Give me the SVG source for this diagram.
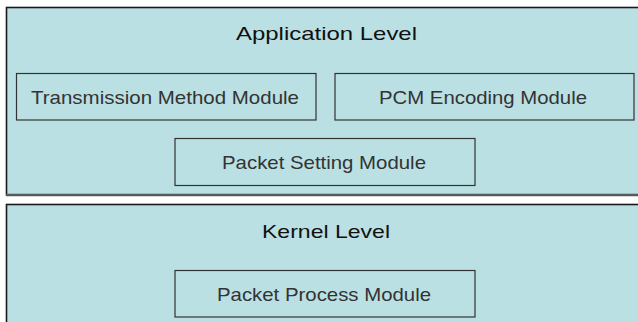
<svg xmlns="http://www.w3.org/2000/svg" width="638" height="322" viewBox="0 0 638 322">
<style>
.level{fill:#bae0e3;stroke:#1a1a1a;stroke-width:1.6}
.shade{stroke:#555a5a;stroke-width:2.4}
.mod{fill:#bae0e3;stroke:#333;stroke-width:1.2}
.title{font-family:"Liberation Sans",Arial,sans-serif;font-size:19px;fill:#111;text-anchor:start}
.label{font-family:"Liberation Sans",Arial,sans-serif;font-size:19px;fill:#333;text-anchor:start}
</style>
<rect width="638" height="322" fill="#ffffff"/>
<g id="application-level">
<rect class="level" x="6.5" y="7.5" width="640" height="187.5"/>
<line class="shade" x1="6" y1="195" x2="638" y2="195"/>
<text class="title" x="236" y="40" textLength="181" lengthAdjust="spacingAndGlyphs">Application Level</text>
</g>
<g id="transmission-method-module">
<rect class="mod" x="16.5" y="73.5" width="299.5" height="46.5"/>
<text class="label" x="31" y="104" textLength="268" lengthAdjust="spacingAndGlyphs">Transmission Method Module</text>
</g>
<g id="pcm-encoding-module">
<rect class="mod" x="335" y="73.5" width="299" height="46.5"/>
<text class="label" x="379" y="104" textLength="208" lengthAdjust="spacingAndGlyphs">PCM Encoding Module</text>
</g>
<g id="packet-setting-module">
<rect class="mod" x="175" y="138.5" width="300" height="47"/>
<text class="label" x="222" y="169" textLength="204" lengthAdjust="spacingAndGlyphs">Packet Setting Module</text>
</g>
<g id="kernel-level">
<rect class="level" x="6.5" y="204.5" width="640" height="130"/>
<text class="title" x="262" y="238" textLength="128" lengthAdjust="spacingAndGlyphs">Kernel Level</text>
</g>
<g id="packet-process-module">
<rect class="mod" x="175" y="270.5" width="300" height="46.5"/>
<text class="label" x="217" y="301" textLength="214" lengthAdjust="spacingAndGlyphs">Packet Process Module</text>
</g>
<g id="connectors"></g>
</svg>
